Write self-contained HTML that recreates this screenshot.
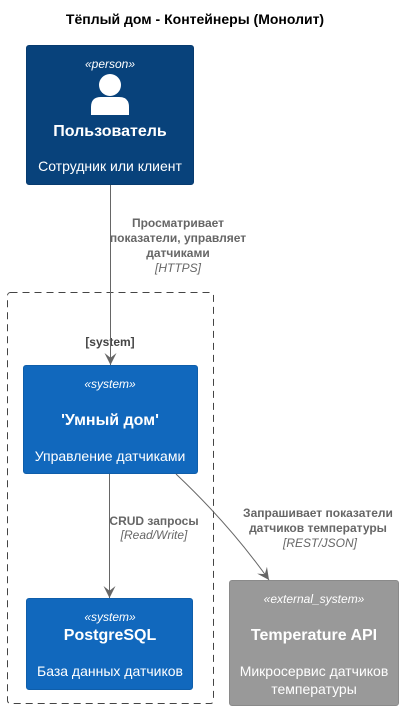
<!DOCTYPE html>
<html><head><meta charset="utf-8"><style>
html,body{margin:0;padding:0;background:#fff;}
svg{display:block;font-family:"Liberation Sans","DejaVu Sans",sans-serif;}
</style></head><body>
<svg width="403" height="711" viewBox="0 0 403 711" xmlns="http://www.w3.org/2000/svg">
<defs><marker id="a" markerWidth="12" markerHeight="12" refX="10" refY="5" orient="auto" markerUnits="userSpaceOnUse" viewBox="0 0 10 10"><path d="M0,0 L10,5 L0,10 L4,5 Z" fill="#666"/></marker></defs>
<text x="195" y="24" font-size="14" font-weight="bold" text-anchor="middle" fill="#000">Тёплый дом - Контейнеры (Монолит)</text>
<rect x="7.5" y="292.5" width="206" height="411" rx="3" fill="none" stroke="#444" stroke-dasharray="7,5"/>
<text x="110" y="346" font-size="12" font-weight="bold" text-anchor="middle" fill="#444">[system]</text>
<rect x="26.5" y="45.5" width="167" height="139" rx="2.5" fill="#08427b" stroke="#073b6f"/>
<text x="110" y="68" font-size="12" font-style="italic" text-anchor="middle" fill="#fff">«person»</text>
<circle cx="110" cy="85" r="11" fill="#fff"/>
<path d="M91,115 L91,107 Q91,97 101,97 L119,97 Q129,97 129,107 L129,115 Z" fill="#fff"/>
<text x="110" y="136" font-size="16" font-weight="bold" text-anchor="middle" fill="#fff">Пользователь</text>
<text x="110" y="171" font-size="14" text-anchor="middle" fill="#fff">Сотрудник или клиент</text>
<rect x="23.5" y="365.5" width="174" height="108" rx="2.5" fill="#1168bd" stroke="#0f5eaa"/>
<text x="110" y="388" font-size="12" font-style="italic" text-anchor="middle" fill="#fff">«system»</text>
<text x="110" y="425" font-size="16" font-weight="bold" text-anchor="middle" fill="#fff">'Умный дом'</text>
<text x="110" y="461" font-size="14" text-anchor="middle" fill="#fff">Управление датчиками</text>
<rect x="26.5" y="598.5" width="166" height="91" rx="2.5" fill="#1168bd" stroke="#0f5eaa"/>
<text x="110" y="621" font-size="12" font-style="italic" text-anchor="middle" fill="#fff">«system»</text>
<text x="110" y="640" font-size="16" font-weight="bold" text-anchor="middle" fill="#fff">PostgreSQL</text>
<text x="110" y="676" font-size="14" text-anchor="middle" fill="#fff">База данных датчиков</text>
<rect x="229.5" y="580.5" width="169" height="125" rx="2.5" fill="#999" stroke="#8a8a8a"/>
<text x="314" y="603" font-size="12" font-style="italic" text-anchor="middle" fill="#fff">«external_system»</text>
<text x="314" y="640" font-size="16" font-weight="bold" text-anchor="middle" fill="#fff">Temperature API</text>
<text x="314" y="676" font-size="14" text-anchor="middle" fill="#fff">Микросервис датчиков</text>
<text x="314" y="694" font-size="14" text-anchor="middle" fill="#fff">температуры</text>
<line x1="110.5" y1="185" x2="110.5" y2="365" stroke="#666" marker-end="url(#a)"/>
<text x="178" y="227" font-size="12" font-weight="bold" text-anchor="middle" fill="#666">Просматривает</text>
<text x="178" y="242" font-size="12" font-weight="bold" text-anchor="middle" fill="#666">показатели, управляет</text>
<text x="178" y="257" font-size="12" font-weight="bold" text-anchor="middle" fill="#666">датчиками</text>
<text x="178" y="272" font-size="12" font-style="italic" text-anchor="middle" fill="#666">[HTTPS]</text>
<line x1="109.5" y1="474" x2="109.5" y2="598" stroke="#666" marker-end="url(#a)"/>
<text x="154" y="525" font-size="12" font-weight="bold" text-anchor="middle" fill="#666">CRUD запросы</text>
<text x="154" y="539" font-size="12" font-style="italic" text-anchor="middle" fill="#666">[Read/Write]</text>
<path d="M176,474 Q230,525 269,580" fill="none" stroke="#666" marker-end="url(#a)"/>
<text x="318" y="517" font-size="12" font-weight="bold" text-anchor="middle" fill="#666">Запрашивает показатели</text>
<text x="318" y="532" font-size="12" font-weight="bold" text-anchor="middle" fill="#666">датчиков температуры</text>
<text x="320" y="547" font-size="12" font-style="italic" text-anchor="middle" fill="#666">[REST/JSON]</text>
</svg>
</body></html>
